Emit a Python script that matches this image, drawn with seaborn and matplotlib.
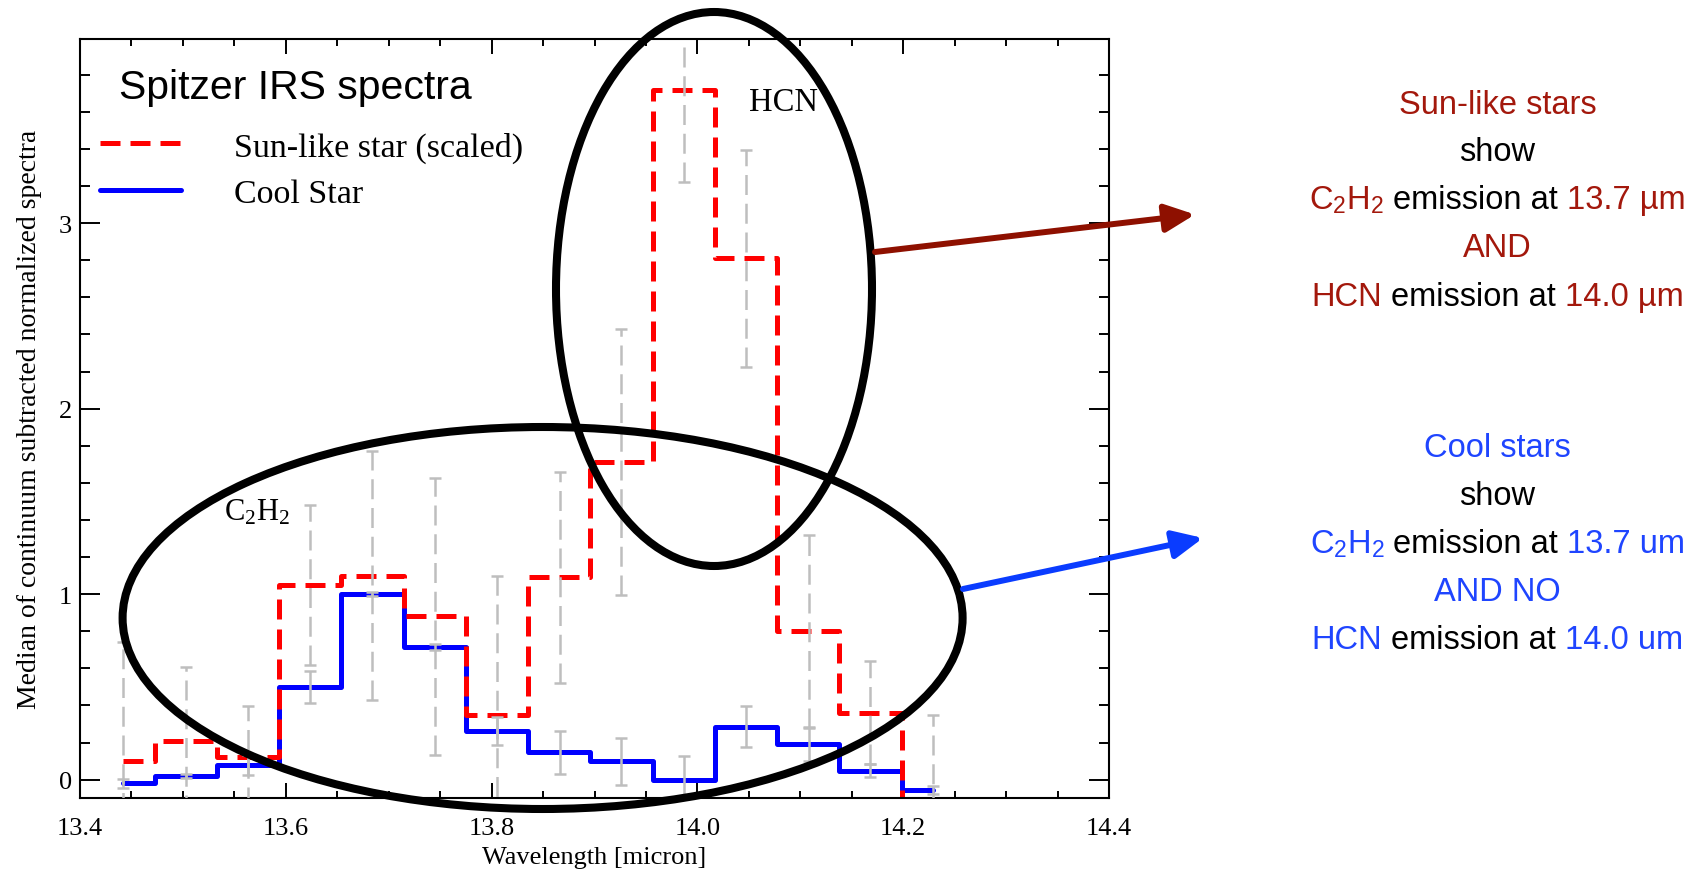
import matplotlib
matplotlib.use("Agg")
import matplotlib.pyplot as plt
import seaborn as sns
import pandas as pd
from matplotlib.patches import Ellipse, FancyArrowPatch
from matplotlib.ticker import FixedLocator, MultipleLocator

# ---------------- data ----------------
wavelength = [13.442, 13.503, 13.563, 13.624, 13.684, 13.745, 13.805,
              13.866, 13.926, 13.987, 14.047, 14.108, 14.168, 14.229]
sun_like = [0.10, 0.21, 0.125, 1.05, 1.10, 0.88, 0.35,
            1.09, 1.71, 3.72, 2.81, 0.80, 0.36, -0.25]
sun_like_err = [0.64, 0.40, 0.27, 0.43, 0.67, 0.745, 0.75,
                0.567, 0.717, 0.50, 0.587, 0.52, 0.278, 0.60]
cool_star = [-0.02, 0.02, 0.08, 0.50, 1.00, 0.715, 0.262,
             0.147, 0.099, 0.0, 0.285, 0.192, 0.048, -0.055]
cool_star_err = [0.025, 0.01, 0.055, 0.085, 0.01, 0.018, 0.075,
                 0.115, 0.125, 0.126, 0.11, 0.09, 0.034, 0.022]
x_ticks = [13.4, 13.6, 13.8, 14.0, 14.2, 14.4]
x_tick_labels = ["13.4", "13.6", "13.8", "14.0", "14.2", "14.4"]
y_ticks = [0, 1, 2, 3]
y_tick_labels = ["0", "1", "2", "3"]
series_labels = ["Sun-like star (scaled)", "Cool Star"]

# ---------------- style ----------------
sns.set_theme(style="ticks", rc={
    "text.color": "black", "axes.labelcolor": "black",
    "xtick.color": "black", "ytick.color": "black",
    "axes.edgecolor": "black",
})
plt.rcParams["font.family"] = ["Liberation Serif", "DejaVu Serif"]
plt.rcParams["mathtext.fontset"] = "custom"
plt.rcParams["mathtext.rm"] = "Liberation Serif"
plt.rcParams["mathtext.it"] = "Liberation Serif:italic"
plt.rcParams["mathtext.sf"] = "Liberation Sans"

W, H = 1689, 870
fig = plt.figure(figsize=(W / 100, H / 100), dpi=100)


def fx(px):
    return px / W


def fy(py):
    return 1 - py / H


AX_L, AX_R, AX_T, AX_B = 80, 1109, 40, 799
ax = fig.add_axes([fx(AX_L), fy(AX_B), fx(AX_R) - fx(AX_L), fy(AX_T) - fy(AX_B)])


def ax_x(px):
    return (px - AX_L) / (AX_R - AX_L)


def ax_y(py):
    return (AX_B - py) / (AX_B - AX_T)


df = pd.DataFrame({"wavelength": wavelength, "sun": sun_like, "cool": cool_star})

sns.lineplot(data=df, x="wavelength", y="cool", ax=ax, color="#0000FF", lw=3.6,
             drawstyle="steps-mid", label=series_labels[1], zorder=2)
sns.lineplot(data=df, x="wavelength", y="sun", ax=ax, color="#FF0000", lw=3.6,
             drawstyle="steps-mid", label=series_labels[0], zorder=2.1)
cool_line, sun_line = ax.lines[0], ax.lines[1]
sun_line.set_linestyle((0, (4, 2)))

eb_sun = ax.errorbar(wavelength, sun_like, yerr=sun_like_err, fmt="none",
                     ecolor="#BEBEBE", elinewidth=1.8, capsize=4, capthick=1.8, zorder=3)
eb_sun[2][0].set_linestyle((0, (8, 3.5)))
eb_cool = ax.errorbar(wavelength, cool_star, yerr=cool_star_err, fmt="none",
                      ecolor="#BEBEBE", elinewidth=1.8, capsize=4, capthick=1.8, zorder=3)

ax.set_xlim(13.4, 14.4)
ax.set_ylim(-0.0987, 3.993)
ax.xaxis.set_major_locator(FixedLocator(x_ticks))
ax.set_xticklabels(x_tick_labels)
ax.xaxis.set_minor_locator(MultipleLocator(0.05))
ax.yaxis.set_major_locator(FixedLocator(y_ticks))
ax.set_yticklabels(y_tick_labels)
ax.yaxis.set_minor_locator(MultipleLocator(0.2))
ax.tick_params(which="both", direction="in", top=True, right=True, labelsize=19)
ax.tick_params(axis="x", which="major", length=10.8, width=1.4, pad=13.5)
ax.tick_params(axis="x", which="minor", length=5, width=1.4)
ax.tick_params(axis="y", which="major", length=14.4, width=1.4, pad=6)
ax.tick_params(axis="y", which="minor", length=7.2, width=1.4)
for s in ax.spines.values():
    s.set_linewidth(1.5)
    s.set_color("black")

ax.set_xlabel("Wavelength [micron]", fontsize=19, labelpad=5.5)
ax.set_ylabel("Median of continuum subtracted normalized spectra", fontsize=20, labelpad=12)

ax.legend(handles=[sun_line, cool_line], labels=series_labels, loc="center left",
          bbox_to_anchor=(ax_x(100), ax_y(171)), frameon=False, fontsize=24.5,
          handlelength=2.38, handletextpad=1.56, labelspacing=0.45,
          borderpad=0, borderaxespad=0)

sans = ["Liberation Sans", "DejaVu Sans"]
fig.text(fx(119.4), fy(99), "Spitzer IRS spectra", family=sans, fontsize=29.5,
         va="baseline", ha="left")
fig.text(fx(783.5), fy(102.5), "HCN", fontsize=23.5, ha="center", va="center")
fig.text(fx(224), fy(520.7), r"C$_2$H$_2$", fontsize=22, ha="left", va="baseline")

# annotation ellipses
fig.add_artist(Ellipse((fx(714), fy(290)), fx(316), 554 / H, transform=fig.transFigure,
                       fill=False, ec="black", lw=5.8, zorder=20))
fig.add_artist(Ellipse((fx(542.6), fy(619)), fx(840), 382 / H, transform=fig.transFigure,
                       fill=False, ec="black", lw=5.8, zorder=20))

# arrows
DARKRED_ARROW = "#8E1000"
BLUE_ARROW = "#0A3CFF"
for (a, b, c) in [((875, 253), (1195, 215.5), DARKRED_ARROW),
                  ((963, 590), (1203, 539), BLUE_ARROW)]:
    fig.add_artist(FancyArrowPatch(posA=(fx(a[0]), fy(a[1])), posB=(fx(b[0]), fy(b[1])),
                                   transform=fig.transFigure,
                                   arrowstyle="-|>,head_length=0.9,head_width=0.42",
                                   mutation_scale=20, lw=4.3, color=c,
                                   shrinkA=0, shrinkB=0, zorder=20))

# right-hand rich text
DARKRED = "#A3180C"
BLUE = "#1F45FF"
renderer = fig.canvas.get_renderer()


def rich_line(cx, base_y, parts, fs=23.5):
    space = 0.278 * fs * 100 / 72
    texts, widths = [], []
    for s, c in parts:
        t = fig.text(0, 0, s, color=c, fontsize=fs, family=sans, va="baseline", ha="left")
        widths.append(t.get_window_extent(renderer).width)
        texts.append(t)
    total = sum(widths) + space * (len(parts) - 1)
    x = cx - total / 2
    for t, w in zip(texts, widths):
        t.set_position((fx(x), fy(base_y)))
        x += w + space


c2h2 = r"C$_\mathsf{2}$H$_\mathsf{2}$"
CX = 1497.5
rich_line(CX, 114.3, [("Sun-like stars", DARKRED)])
rich_line(CX, 161, [("show", "black")])
rich_line(CX, 209, [(c2h2, DARKRED), ("emission at", "black"), ("13.7 µm", DARKRED)])
rich_line(CX, 257.3, [("AND", DARKRED)])
rich_line(CX, 305.7, [("HCN", DARKRED), ("emission at", "black"), ("14.0 µm", DARKRED)])

rich_line(CX, 457.3, [("Cool stars", BLUE)])
rich_line(CX, 505.3, [("show", "black")])
rich_line(CX, 553.3, [(c2h2, BLUE), ("emission at", "black"), ("13.7 um", BLUE)])
rich_line(CX, 601, [("AND NO", BLUE)])
rich_line(CX, 648.7, [("HCN", BLUE), ("emission at", "black"), ("14.0 um", BLUE)])

fig.savefig("out.png", dpi=100)
